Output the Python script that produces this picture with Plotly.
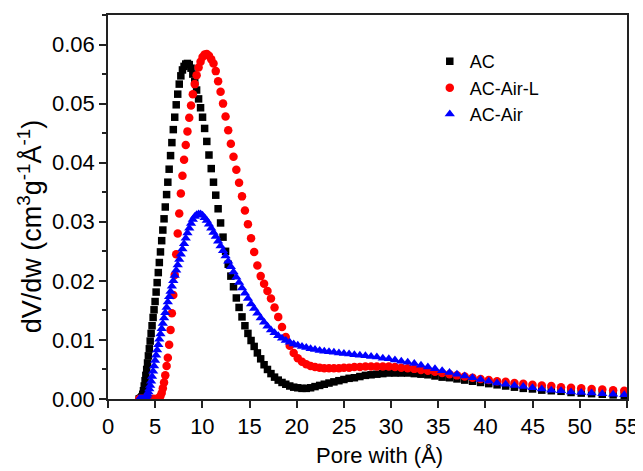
import plotly.graph_objects as go

# Pore width grid (Å)
pore_width = [
    3.30, 3.37, 3.45, 3.52, 3.60, 3.68, 3.76, 3.84, 3.93, 4.01,
    4.10, 4.19, 4.28, 4.38, 4.47, 4.57, 4.67, 4.78, 4.88, 4.99,
    5.10, 5.21, 5.33, 5.44, 5.56, 5.69, 5.81, 5.94, 6.07, 6.21,
    6.34, 6.48, 6.63, 6.77, 6.92, 7.07, 7.23, 7.39, 7.55, 7.72,
    7.89, 8.06, 8.24, 8.42, 8.61, 8.80, 8.99, 9.19, 9.39, 9.60,
    9.81, 10.02, 10.24, 10.47, 10.70, 10.94, 11.18, 11.42, 11.67, 11.93,
    12.19, 12.46, 12.74, 13.02, 13.30, 13.60, 13.89, 14.20, 14.51, 14.83,
    15.16, 15.49, 15.83, 16.18, 16.54, 16.90, 17.27, 17.65, 18.04, 18.44,
    18.84, 19.26, 19.68, 20.11, 20.56, 21.01, 21.47, 21.94, 22.43, 22.92,
    23.42, 23.94, 24.47, 25.00, 25.55, 26.11, 26.69, 27.28, 27.88, 28.49,
    29.12, 29.76, 30.41, 31.08, 31.76, 32.46, 33.17, 33.90, 34.65, 35.41,
    36.19, 36.98, 37.80, 38.63, 39.48, 40.35, 41.23, 42.14, 43.07, 44.01,
    44.98, 45.97, 46.98, 48.01, 49.07, 50.15, 51.25, 52.38, 53.53, 54.71,
]

ac = [
    0.0000, 0.0000, 0.0001, 0.0002, 0.0004, 0.0008, 0.0014, 0.0022, 0.0031, 0.0040,
    0.0050, 0.0061, 0.0073, 0.0085, 0.0098, 0.0111, 0.0124, 0.0138, 0.0151, 0.0165,
    0.0181, 0.0197, 0.0214, 0.0231, 0.0249, 0.0268, 0.0286, 0.0305, 0.0325, 0.0346,
    0.0367, 0.0389, 0.0412, 0.0434, 0.0456, 0.0477, 0.0498, 0.0516, 0.0533, 0.0547,
    0.0557, 0.0563, 0.0567, 0.0568, 0.0566, 0.0560, 0.0550, 0.0537, 0.0523, 0.0508,
    0.0493, 0.0477, 0.0458, 0.0436, 0.0413, 0.0390, 0.0367, 0.0345, 0.0322, 0.0298,
    0.0274, 0.0250, 0.0228, 0.0208, 0.0190, 0.0171, 0.0155, 0.0139, 0.0124, 0.0111,
    0.0099, 0.0089, 0.0078, 0.0068, 0.0058, 0.0050, 0.0043, 0.0037, 0.0032, 0.0028,
    0.0025, 0.0022, 0.0020, 0.0019, 0.0018, 0.0018, 0.0019, 0.0021, 0.0023, 0.0025,
    0.0027, 0.0029, 0.0031, 0.0033, 0.0035, 0.0036, 0.0038, 0.0040, 0.0041, 0.0042,
    0.0043, 0.0044, 0.0044, 0.0044, 0.0044, 0.0043, 0.0042, 0.0041, 0.0039, 0.0037,
    0.0036, 0.0034, 0.0032, 0.0030, 0.0028, 0.0026, 0.0024, 0.0022, 0.0020, 0.0018,
    0.0017, 0.0015, 0.0014, 0.0013, 0.0011, 0.0010, 0.0009, 0.0008, 0.0007, 0.0006,
]

ac_air_l = [
    0.0000, 0.0000, 0.0000, 0.0000, 0.0000, 0.0000, 0.0000, 0.0000, 0.0000, 0.0000,
    0.0000, 0.0000, 0.0000, 0.0000, 0.0000, 0.0000, 0.0000, 0.0000, 0.0000, 0.0000,
    0.0000, 0.0000, 0.0001, 0.0002, 0.0005, 0.0010, 0.0018, 0.0028, 0.0040, 0.0056,
    0.0070, 0.0092, 0.0117, 0.0145, 0.0176, 0.0210, 0.0245, 0.0280, 0.0314, 0.0348,
    0.0378, 0.0405, 0.0430, 0.0453, 0.0476, 0.0497, 0.0516, 0.0533, 0.0548, 0.0561,
    0.0571, 0.0579, 0.0583, 0.0584, 0.0581, 0.0575, 0.0568, 0.0555, 0.0538, 0.0520,
    0.0500, 0.0478, 0.0455, 0.0432, 0.0410, 0.0388, 0.0366, 0.0343, 0.0319, 0.0296,
    0.0272, 0.0249, 0.0226, 0.0208, 0.0195, 0.0183, 0.0170, 0.0155, 0.0139, 0.0122,
    0.0105, 0.0090, 0.0078, 0.0069, 0.0063, 0.0059, 0.0056, 0.0054, 0.0053, 0.0052,
    0.0052, 0.0052, 0.0052, 0.0053, 0.0053, 0.0054, 0.0054, 0.0055, 0.0055, 0.0055,
    0.0055, 0.0055, 0.0054, 0.0053, 0.0052, 0.0051, 0.0049, 0.0048, 0.0046, 0.0044,
    0.0042, 0.0040, 0.0038, 0.0036, 0.0034, 0.0032, 0.0030, 0.0029, 0.0027, 0.0026,
    0.0024, 0.0023, 0.0022, 0.0020, 0.0019, 0.0018, 0.0017, 0.0016, 0.0015, 0.0014,
]

ac_air = [
    0.0000, 0.0000, 0.0000, 0.0000, 0.0000, 0.0000, 0.0000, 0.0001, 0.0002, 0.0003,
    0.0005, 0.0008, 0.0012, 0.0017, 0.0023, 0.0030, 0.0038, 0.0047, 0.0056, 0.0065,
    0.0074, 0.0083, 0.0092, 0.0101, 0.0110, 0.0119, 0.0128, 0.0137, 0.0146, 0.0155,
    0.0164, 0.0173, 0.0182, 0.0191, 0.0200, 0.0209, 0.0218, 0.0227, 0.0236, 0.0245,
    0.0254, 0.0263, 0.0272, 0.0281, 0.0289, 0.0297, 0.0304, 0.0309, 0.0312, 0.0313,
    0.0313, 0.0311, 0.0307, 0.0302, 0.0296, 0.0289, 0.0282, 0.0275, 0.0267, 0.0259,
    0.0251, 0.0242, 0.0233, 0.0224, 0.0215, 0.0206, 0.0197, 0.0188, 0.0179, 0.0170,
    0.0161, 0.0153, 0.0145, 0.0137, 0.0130, 0.0123, 0.0117, 0.0112, 0.0107, 0.0103,
    0.0099, 0.0096, 0.0093, 0.0091, 0.0089, 0.0087, 0.0085, 0.0084, 0.0082, 0.0081,
    0.0080, 0.0079, 0.0078, 0.0077, 0.0076, 0.0075, 0.0074, 0.0073, 0.0072, 0.0071,
    0.0069, 0.0068, 0.0066, 0.0064, 0.0062, 0.0060, 0.0057, 0.0054, 0.0051, 0.0048,
    0.0045, 0.0042, 0.0039, 0.0036, 0.0033, 0.0030, 0.0027, 0.0025, 0.0023, 0.0021,
    0.0019, 0.0017, 0.0015, 0.0014, 0.0012, 0.0011, 0.0010, 0.0009, 0.0008, 0.0007,
]

series_names = ["AC", "AC-Air-L", "AC-Air"]
x_ticks = [0, 5, 10, 15, 20, 25, 30, 35, 40, 45, 50, 55]
y_ticks = [0.00, 0.01, 0.02, 0.03, 0.04, 0.05, 0.06]
x_title = "Pore with (Å)"
y_title = "dV/dw (cm<sup>3</sup>g<sup>-1</sup>Å<sup>-1</sup>)"

FONT = "Arial, 'Liberation Sans', sans-serif"

fig = go.Figure()
fig.add_trace(go.Scatter(x=pore_width, y=ac, mode="markers", name=series_names[0],
                         marker=dict(symbol="square", size=7.5, color="#000000", line=dict(width=0))))
fig.add_trace(go.Scatter(x=pore_width, y=ac_air_l, mode="markers", name=series_names[1],
                         marker=dict(symbol="circle", size=8.5, color="#ff0000", line=dict(width=0))))
fig.add_trace(go.Scatter(x=pore_width, y=ac_air, mode="markers", name=series_names[2],
                         marker=dict(symbol="triangle-up", size=9, color="#0000ff", line=dict(width=0))))

fig.update_layout(
    width=635, height=463,
    margin=dict(l=100, r=16, t=7, b=72),
    paper_bgcolor="white", plot_bgcolor="white",
    font=dict(family=FONT, color="black", size=20),
    showlegend=True,
    legend=dict(x=0.62, y=0.927, xanchor="left", yanchor="top",
                font=dict(family=FONT, size=18, color="black"),
                bgcolor="rgba(0,0,0,0)", tracegroupgap=0, itemsizing="trace"),
    annotations=[
        dict(text=x_title, xref="paper", yref="paper", x=0.524, y=-0.146,
             xanchor="center", yanchor="middle", showarrow=False,
             font=dict(family=FONT, size=22, color="black")),
        dict(text=y_title, xref="paper", yref="paper", x=-0.150, y=0.45,
             xanchor="center", yanchor="middle", showarrow=False, textangle=-90,
             font=dict(family=FONT, size=27, color="black")),
    ],
)
fig.update_xaxes(
    range=[0, 55], tickvals=x_ticks, ticktext=[str(v) for v in x_ticks],
    showgrid=False, zeroline=False, automargin=False,
    showline=True, linecolor="#222222", linewidth=1.5, mirror=True,
    ticks="outside", ticklen=7, tickwidth=1.5, tickcolor="#222222",
    tickfont=dict(size=22),
)
fig.update_yaxes(
    range=[0, 0.065], tickvals=y_ticks, ticktext=[f"{v:.2f}" for v in y_ticks],
    showgrid=False, zeroline=False, automargin=False,
    showline=True, linecolor="#222222", linewidth=1.5, mirror=True,
    ticks="outside", ticklen=7, tickwidth=1.5, tickcolor="#222222",
    minor=dict(dtick=0.005, ticks="outside", ticklen=4, tickwidth=1.5, tickcolor="#222222", showgrid=False),
    tickfont=dict(size=22),
)

fig.write_html("out.html")
